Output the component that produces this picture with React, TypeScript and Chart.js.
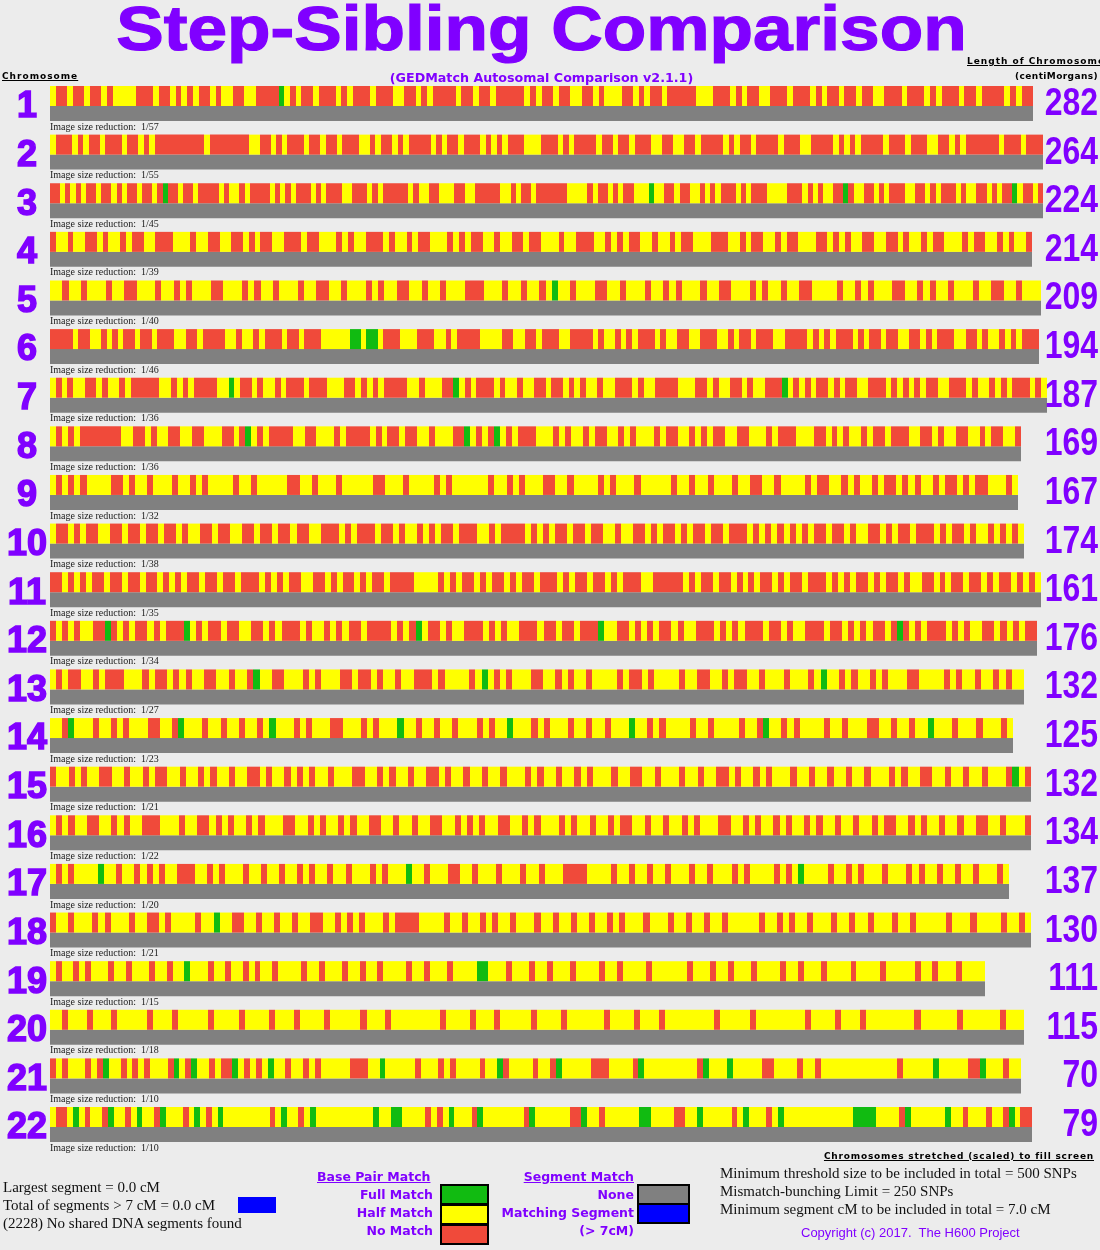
import React, { useEffect, useRef } from "react";
import { Chart, registerables } from "chart.js";

Chart.register(...registerables);

// ---------------- DATA ----------------
const chromosomes = ["1","2","3","4","5","6","7","8","9","10","11","12","13","14","15","16","17","18","19","20","21","22"];
const lengthsCM = [282, 264, 224, 214, 209, 194, 187, 169, 167, 174, 161, 176, 132, 125, 132, 134, 137, 130, 111, 115, 70, 79];
const reductions = [57, 55, 45, 39, 40, 46, 36, 36, 32, 38, 35, 34, 27, 23, 21, 22, 20, 21, 15, 18, 10, 10];
// drawn (scaled) length of each chromosome image
const barLengths = [983, 993, 993, 982, 991, 989, 997, 971, 968, 974, 991, 987, 974, 963, 981, 981, 959, 981, 935, 974, 971, 982];
// base-pair match sequence along each chromosome: r = no match, y = half match, g = full match
const matchStrips = [
  "yrryrryrryryyyyrrryrryryryrryryyrryyrrrrgyryrryrrryryrrryrrryyrryryrrrryrryrryrrrrryryrryrryyrryryyyrryryrryrrrrryyyrrryryrryyrrryrrryryrryrryrryyrrryrrryryrrryrryrrrryryrr",
  "yrrryryrryrrryrryryrrrrrrrrryrrrrrrryyrryryrrryrryrryrrryyryrryryrrrryryrryrrryryryrrryyyrrryryrrrryrryrryrrryyrryyrryrrrryryrryrrrryrrryyrrrryryryrrrryrrryrrryyrryryrrrrrryrrryrrr",
  "rryryryrryrryryrryrryrgrryrryrrrryryyryrrrryryryrrryryrrryyrrryryrrrrryryyrryyyrryyrrrrryyryrryrrrrrryyyyryrryryrryyygyyrryrryyryryrrryryrrryyyyrrryryryyrrgryyrryryrrryyrryryrrryryyrryryrrgyrryr",
  "ryyryyrryryyryrryyrrryyyryyrryyrryryrryyrrryrryyyryryyrrryryyryrryyyryryrryyryyrryrryyyryyrrryyryryrryyryyryrryyyrrryyryrryyryrryyyrryryryyrryyrryryyryrryyyryrryyryryyr",
  "yyryyryyyryyrryyyryyryryyyrryyyryryyryyyryyrryyryyyryryyrryyryyryyyrrryyyryyryyrygyyryyyrryyryyyryyryryyyryyrryyyryryyryyrryyyyryyryryyyrryyryryyryyyryyrryyryyy",
  "rrrryrryyryryrryrryrrryyrryrrrryyryyryrrryrryrrryyyyyggyggyrrryyyrrryyryrrrryyyyrryyrryrrryyrrrryryyryryrrryryyrryyrrryyryrryrrryyrrrryryryrrryryrryrryyrryryrrryyrryryyryryrrr",
  "yryryyrryryyryrrrrryyryryrrrryygyrryryyryrrryrrryyyrryryryrrrryyryyyrrgyryrrryryyryyrryrryryryyryyrrryryyrrrryyyrryryyrryryyrrrgyryryrryryrryyrrryryryryrryyrrryryyryryrrryry",
  "yryryrrrrrrryyrryryyrryyrryyyrryrgyryrrrryyrryyyryrrrryryrryrryyryyyrrgyryrgyryrrryyyryryyryrryyryryyyryrryyryryrryyrryyyryrrryyyrryryryyryrryrrryyrryryyrryyryrryyr",
  "yryryryyyyrryryyryyyryyryryyyyryyryyyyyrryyryyyryyyyyrryyyryyyyryryyyyyyryyryryyyrryyryyyyryryyyryyyyyryyryyryyyryyrryyryyyyryrryyryryyryrryryryyryrryryrryyyry",
  "yrryryrryyrryrryrryrryryyrryrryyrryrryrryrryyrrryryrrryrryryyryryrryrrryyryrrrryryryrryrryrryyryyrryryrryryrryrryrrryryryryryryrryrryryyrryryrryrrryryrryryyryryry",
  "rryryryrryrryrryrryryryrryrryrryrrryryryrryyrryryrryryrryrrrryyyyryryrryryrryryrryrrryryrryrryryrrryyrrrrryryrryrryryryrryryrryrrryryryrryryrryryyrryryrryrryryrryryry",
  "ryryryyrrgryryrryryrrrgyryrryrryyrryryrrryryyryryrryrrrryryrgyrryryyrrryryryyrrryrryrryrrrgyyrryryryrryryyrrryryryrrryrryryyrrryrryryryrryrgryryrrryryryyrryryryrr",
  "yryrryyryrrryyyryrryryryyrryyryyrgyyrryyyryryyyrryrryryyryyrrryryyyyrygyryryyyrryyryryyryyyyryrryryyyyryyrryyryrryyryyyryyyrygyyryryyryryyyrryyyyryryyryyryryy",
  "yyrgyyyryyryryyyrryyrgyyyryyryyryyrygyyyryryyyrryyyryryyygyyryyryyryyyryryygyyyryryyyryyryyryyygyyryryyyyryyryyyyryyrgyyryryyyyryyryyyrryyryyryygyyyryyyryyyry",
  "ryyryryyrryyryyryrryyryyryryyryyrryryyryryryyryyyrryyryryyryyrryryyryyryyryyyryryyryyryryyyryyrryyryyyryyryyrryryyryryyyryyryyryyryyryyyryryyrryyryyryyryyyrgyr",
  "yryryyrryyryryyrrryyyryyrryryryyryryyyrryyryryyryryyrryyryyryyrryyryryryyrryyryryyyryryyryyryrryyryyryyryryyyrryyryryyryryyryryyryyryyryrryyryryyryyryyrryyryyyr",
  "yryryyyygyyryyryryryyrrryyryryyyryyryyryyryryyryyryyyryryyygyyryyyrryyryyyryyyryyryyyrrrryyyyryyryyryyryyyryyryyyryryyyyryrygyyyyryyryryyyryyyryryyryyryyryyyry",
  "ryyryyyryryyyryyrryryyyyryygyyrryyryyryyryyrryyryryryyyryrrrryyyyryyryyryryyryyyryyryyryyryyryryyyryyyryyryyryyryyyyyryyryryyryyyryyryyryyyryyryyyyyryyyryyyyryyry",
  "yryyryryyyryyryyyryyryygyyyryyryyryryyryyyyryyryyyryyryyryyyyryyryyyryyyyggyyyryyyryyryyyryyyyryyryyyyryyyyyyryyyryyryyyryyyyryyryyyryyyyryyyyryyyyyryyryyyryyyy",
  "yyryyyryyyryyyyyryyyryyyyyryyyyryyyyryyyryyyyryyyyyryyyryyyyyyyyryyyyryyyryyyyyryyyyryyyyyyryyyyryyyryyyyyyyyryyyyyryyyyyyyyryyyyryyyryyyyyyyyryyyyyyryyyyyyryyy",
  "ryryyyryrgyyryryryyyrgyrgyyryrrgyryrygyyryyryryyyyyrrryygyyyyyryyyryryyyyryygryyyyryyrgyyyyyrrryyyyrgyyyyyyyyyrgyyygyyyyyrryyyyryyryyyyyyyyyyyyyryyyyygyyyyyrrgyyyryy",
  "yrrygyryyrgyyrygyyrgyyyrygyrygyyyyyyyyrygyyrygyyyyyyyyyygyyggyyyyryrygyyyrgyyyyyyyrgyyyyyyrrgyyryyyyyyggyyyyrryygyyyyyrygyyyrygyyyyyyyyyyyyggggyyyyrgyyyyyygyyryyyryyrgyrr",
];

// ---------------- STYLE ----------------
const PURPLE = "#8000ff";
const COLORS: Record<string, string> = { g: "#11bb11", y: "#ffff00", r: "#f04a3a" };
const NONE_GRAY = "#808080";
const ROW_PX = 48.62; // pixel pitch between chromosome rows
const ROW0_PX = 96; // pixel centre of chromosome 1 stripe
const GRAY_OFFSET = 0.36;
const X_MAX = 998;

function buildDatasets() {
  const runs: Record<string, any[]> = { g: [], y: [], r: [] };
  matchStrips.forEach((s, i) => {
    const unit = barLengths[i] / s.length;
    let start = 0;
    for (let k = 1; k <= s.length; k++) {
      if (k === s.length || s[k] !== s[start]) {
        runs[s[start]].push({ x: [Math.round(start * unit), Math.round(k * unit)], y: i });
        start = k;
      }
    }
  });
  const minPx = GRAY_OFFSET * ROW_PX;
  const common = { grouped: false, categoryPercentage: 1, borderWidth: 0, clip: false };
  return [
    { label: "No Match", data: runs.r, backgroundColor: COLORS.r, barPercentage: 20 / minPx, ...common },
    { label: "Half Match", data: runs.y, backgroundColor: COLORS.y, barPercentage: 20 / minPx, ...common },
    { label: "Full Match", data: runs.g, backgroundColor: COLORS.g, barPercentage: 20 / minPx, ...common },
    {
      label: "None",
      data: barLengths.map((len, i) => ({ x: [0, len], y: i + GRAY_OFFSET })),
      backgroundColor: NONE_GRAY,
      barPercentage: 15 / minPx,
      ...common,
    },
  ];
}

// keep a fixed row pitch whatever pixel span the layout gives the axis
const rowMapPlugin = {
  id: "rowMap",
  afterLayout(chart: any) {
    const s = chart.scales.y;
    const start = s._startPixel;
    const len = s._length;
    const min = (start - ROW0_PX) / ROW_PX;
    const max = min + len / ROW_PX;
    s.min = min;
    s.max = max;
    s._startValue = min;
    s._endValue = max;
    s._valueRange = max - min;
    s._labelItems = null;
  },
};

const labelPlugin = {
  id: "rowLabels",
  afterDatasetsDraw(chart: any) {
    const ys = chart.scales.y;
    const ctx = chart.ctx;
    ctx.save();
    ctx.font = "10px 'Liberation Serif', 'Times New Roman', serif";
    ctx.fillStyle = "#1a1a1a";
    ctx.textAlign = "left";
    ctx.textBaseline = "middle";
    reductions.forEach((r, i) => {
      ctx.fillText(`Image size reduction:  1/${r}`, chart.chartArea.left, ys.getPixelForValue(i + GRAY_OFFSET) + 13.5);
    });
    ctx.restore();
    // chromosome length (cM) labels on the right
    ctx.save();
    ctx.font = "bold 39px 'Liberation Sans', Arial, sans-serif";
    ctx.fillStyle = PURPLE;
    ctx.textAlign = "right";
    ctx.textBaseline = "middle";
    lengthsCM.forEach((v, i) => {
      ctx.save();
      ctx.translate(1098, ys.getPixelForValue(i + 0.17));
      ctx.scale(0.82, 1);
      ctx.fillText(String(v), 0, 0);
      ctx.restore();
    });
    ctx.restore();
  },
};

function StripeChart() {
  const ref = useRef<HTMLCanvasElement | null>(null);
  useEffect(() => {
    if (!ref.current) return;
    const chart = new Chart(ref.current, {
      type: "bar",
      data: { datasets: buildDatasets() as any },
      options: {
        indexAxis: "y",
        animation: false,
        responsive: false,
        devicePixelRatio: 1,
        layout: { padding: { top: 8, bottom: 84, left: 0, right: 1100 - 50 - X_MAX } },
        plugins: { legend: { display: false }, tooltip: { enabled: false }, title: { display: false } },
        scales: {
          x: { type: "linear", min: 0, max: X_MAX, display: false },
          y: {
            type: "linear",
            position: "left",
            reverse: true,
            min: -1.81,
            max: 22,
            grid: { display: false, drawTicks: false },
            border: { display: false },
            afterBuildTicks: (scale: any) => {
              scale.ticks = chromosomes.map((_, i) => ({ value: i + 0.235 }));
            },
            afterFit: (scale: any) => {
              scale.width = 50;
            },
            ticks: {
              autoSkip: false,
              crossAlign: "center",
              padding: 3,
              color: PURPLE,
              textStrokeColor: PURPLE,
              textStrokeWidth: 1.5,
              font: { family: "'Liberation Sans', Arial, sans-serif", size: 36, weight: "bold", lineHeight: 0.05 },
              callback: (_v: any, idx: number) => chromosomes[idx],
            },
          },
        },
      } as any,
      plugins: [rowMapPlugin, labelPlugin],
    });
    return () => chart.destroy();
  }, []);
  return <canvas ref={ref} width={1100} height={1250} style={{ position: "absolute", left: 0, top: 0, display: "block" }} />;
}

const abs = (s: React.CSSProperties): React.CSSProperties => ({ position: "absolute", whiteSpace: "pre", margin: 0, ...s });
const hdr: React.CSSProperties = { fontFamily: "'DejaVu Sans', Verdana, sans-serif", fontWeight: "bold", fontSize: 9, lineHeight: "9px", color: "#000" };
const leg: React.CSSProperties = { fontFamily: "'DejaVu Sans', Verdana, sans-serif", fontWeight: "bold", fontSize: 12.5, lineHeight: "13px", color: PURPLE };
const serif: React.CSSProperties = { fontFamily: "'Liberation Serif', 'Times New Roman', serif", fontSize: 15, lineHeight: "15px", color: "#111" };

function Box({ left, top, w, h, color }: { left: number; top: number; w: number; h: number; color: string }) {
  return <div style={abs({ left, top, width: w, height: h, background: color, border: "2px solid #000", boxSizing: "border-box" })} />;
}

export default function App() {
  return (
    <div style={{ position: "absolute", left: 0, top: 0, width: 1100, height: 1250, background: "#ececec", overflow: "hidden" }}>
      <StripeChart />
      <div style={abs({ left: 0, width: 1083, top: -3, textAlign: "center", fontFamily: "'Liberation Sans', Arial, sans-serif", fontWeight: "bold", fontSize: 63, lineHeight: "63px", color: PURPLE, transform: "scaleX(1.13)", transformOrigin: "541.5px 50%", WebkitTextStroke: "1.2px " + PURPLE })}>
        Step-Sibling Comparison
      </div>
      <div style={abs({ ...hdr, left: 2, top: 72, letterSpacing: 1, textDecoration: "underline" })}>Chromosome</div>
      <div style={abs({ left: 0, width: 1083, top: 72, textAlign: "center", fontFamily: "'DejaVu Sans', Verdana, sans-serif", fontWeight: "bold", fontSize: 12.7, lineHeight: "12px", color: PURPLE })}>
        (GEDMatch Autosomal Comparison v2.1.1)
      </div>
      <div style={abs({ ...hdr, left: 967, top: 56.5, letterSpacing: 1, textDecoration: "underline" })}>Length of Chromosome</div>
      <div style={abs({ ...hdr, right: 2, top: 71.5, letterSpacing: 0.4 })}>(centiMorgans)</div>

      <div style={abs({ ...hdr, right: 6, top: 1151.5, letterSpacing: 0.8, textDecoration: "underline" })}>Chromosomes stretched (scaled) to fill screen</div>

      <div style={abs({ ...serif, left: 3, top: 1179.5 })}>Largest segment = 0.0 cM</div>
      <div style={abs({ ...serif, left: 3, top: 1197.5 })}>Total of segments &gt; 7 cM = 0.0 cM</div>
      <div style={abs({ left: 238, top: 1197, width: 38, height: 16, background: "#0000ff" })} />
      <div style={abs({ ...serif, left: 3, top: 1215.5 })}>(2228) No shared DNA segments found</div>

      <div style={abs({ ...leg, left: 317, top: 1169.5, textDecoration: "underline" })}>Base Pair Match</div>
      <div style={abs({ ...leg, right: 667, top: 1187.5, textAlign: "right" })}>Full Match</div>
      <div style={abs({ ...leg, right: 667, top: 1205.5, textAlign: "right" })}>Half Match</div>
      <div style={abs({ ...leg, right: 667, top: 1223.5, textAlign: "right" })}>No Match</div>
      <Box left={440} top={1184} w={49} h={21} color={COLORS.g} />
      <Box left={440} top={1204} w={49} h={21} color={COLORS.y} />
      <Box left={440} top={1224} w={49} h={21} color={COLORS.r} />

      <div style={abs({ ...leg, right: 466, top: 1169.5, textDecoration: "underline" })}>Segment Match</div>
      <div style={abs({ ...leg, right: 466, top: 1187.5, textAlign: "right" })}>None</div>
      <div style={abs({ ...leg, right: 466, top: 1205.5, textAlign: "right" })}>Matching Segment</div>
      <div style={abs({ ...leg, right: 466, top: 1223.5, textAlign: "right" })}>(&gt; 7cM)</div>
      <Box left={637} top={1184} w={53} h={21} color={NONE_GRAY} />
      <Box left={637} top={1203} w={53} h={21} color="#0000ff" />

      <div style={abs({ ...serif, left: 720, top: 1165.5 })}>Minimum threshold size to be included in total = 500 SNPs</div>
      <div style={abs({ ...serif, left: 720, top: 1184 })}>Mismatch-bunching Limit = 250 SNPs</div>
      <div style={abs({ ...serif, left: 720, top: 1201.5 })}>Minimum segment cM to be included in total = 7.0 cM</div>
      <div style={abs({ left: 801, top: 1225.5, fontFamily: "'Liberation Sans', Arial, sans-serif", fontSize: 13, lineHeight: "13px", color: PURPLE })}>
        Copyright (c) 2017.  The H600 Project
      </div>
    </div>
  );
}
